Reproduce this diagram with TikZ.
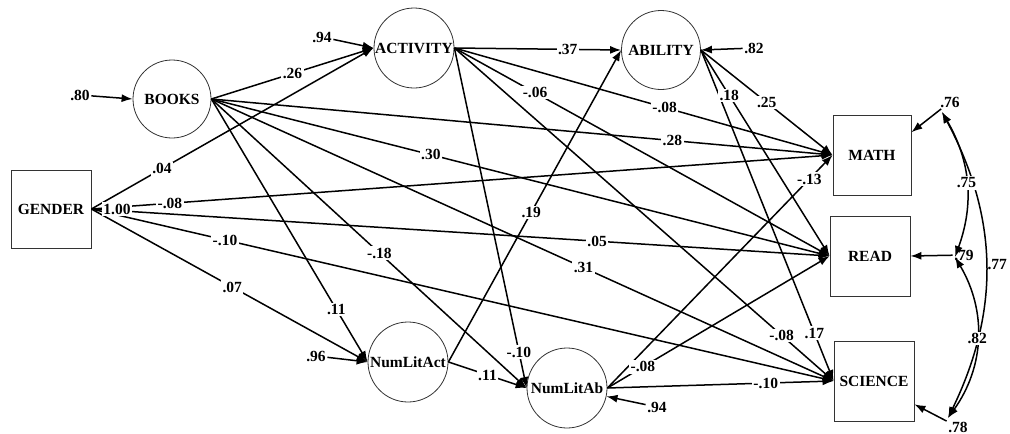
\documentclass[tikz,border=0pt]{standalone}
\usepackage{fontspec}
\setmainfont{Liberation Serif}
\usetikzlibrary{arrows.meta, positioning, calc}

\tikzset{
  latent/.style={circle, draw=black!80, line width=0.8pt, minimum size=80, inner sep=0pt},
  observed/.style={rectangle, draw=black!80, line width=0.8pt, minimum width=80, minimum height=80, inner sep=0pt},
  effect/.style={-{Latex[length=11pt,width=8pt]}, line width=1.5pt},
  corr/.style={{Latex[length=11pt,width=8pt]}-{Latex[length=11pt,width=8pt]}, line width=1.5pt},
  coef/.style={fill=white, inner sep=1.5pt},
  resid/.style={inner sep=1.5pt},
}

\begin{document}
\begin{tikzpicture}[x=1pt, y=-1pt, font=\fontsize{15.5}{18}\selectfont\bfseries]
  \useasboundingbox (0,0) rectangle (1010,434);
  % Variables
  \node[observed, minimum height=78] (gender) at (51,209) {GENDER};
  \node[latent, minimum size=78] (books) at (172,99) {BOOKS};
  \node[latent] (act) at (414,48) {ACTIVITY};
  \node[latent, minimum size=79] (abil) at (661,50) {ABILITY};
  \node[latent] (nla) at (408,362) {NumLitAct};
  \node[latent] (nlb) at (567,388) {NumLitAb};
  \node[observed, minimum width=78] (math) at (872,155) {MATH};
  \node[observed] (read) at (870,256) {READ};
  \node[observed] (sci) at (874,381) {SCIENCE};
  % Residual variances
  \node[resid] (r80) at (80,95) {.80};
  \node[resid] (r94a) at (322,37) {.94};
  \node[resid] (r82) at (754,48) {.82};
  \node[resid] (r96) at (316,356) {.96};
  \node[resid] (r94b) at (657,407) {.94};
  \node[resid] (r76) at (950,102) {.76};
  \node[resid] (r79) at (964,255) {.79};
  \node[resid] (r78) at (958,427) {.78};
  \coordinate (c76) at (942,112);
  \coordinate (c79) at (955,257);
  \coordinate (c78) at (948,418);
  \draw[effect] (r80) -- (books.west);
  \draw[effect] (r94a) -- (act.west);
  \draw[effect] (r82) -- (abil.east);
  \draw[effect] (r96) -- (nla.west);
  \draw[effect] (r94b) -- (nlb.-12);
  \draw[effect] (r76) -- (math.30);
  \draw[effect] (r79) -- (read.east);
  \draw[effect] (r78) -- (sci.-30);
  % Paths: from/to/pos/estimate
  \def\paths{books.east/act.west/.50/.26, gender.east/act.west/.25/.04,
    act.east/abil.west/.68/.37, act.east/math.west/.556/-.08,
    act.east/read.west/.215/-.06, act.east/sci.west/.863/-.08,
    act.east/nlb.west/.894/-.10, books.east/math.west/.742/.28,
    books.east/read.west/.355/.30, books.east/sci.west/.598/.31,
    books.east/nlb.west/.533/-.18, books.east/nla.west/.80/.11,
    gender.east/math.west/.106/-.08, gender.east/read.west/.685/.05,
    gender.east/sci.west/.18/-.10, gender.east/nla.west/.51/.07,
    nla.east/abil.west/.48/.19, nla.east/nlb.west/.5/.11,
    abil.east/math.west/.5/.25, abil.east/read.west/.22/.18,
    abil.east/sci.west/.855/.17, nlb.east/math.west/.897/-.13,
    nlb.east/read.west/.16/-.08, nlb.east/sci.west/.70/-.10}
  \foreach \a/\b/\p/\lab in \paths
    \draw[effect] (\a) -- (\b);
  \foreach \a/\b/\p/\lab in \paths
    \path (\a) -- (\b) node[coef, pos=\p] {\lab};
  \node[coef] (gvar) at (117,209) {1.00};
  % Error covariances
  \draw[corr] (c76) to[bend left=27] node[right, inner sep=1pt] {.77} (c78);
  \draw[corr] (c76) to[bend left=25] node[coef] {.75} (c79);
  \draw[corr] (c79) to[bend left=33] node[coef] {.82} (c78);
\end{tikzpicture}
\end{document}
